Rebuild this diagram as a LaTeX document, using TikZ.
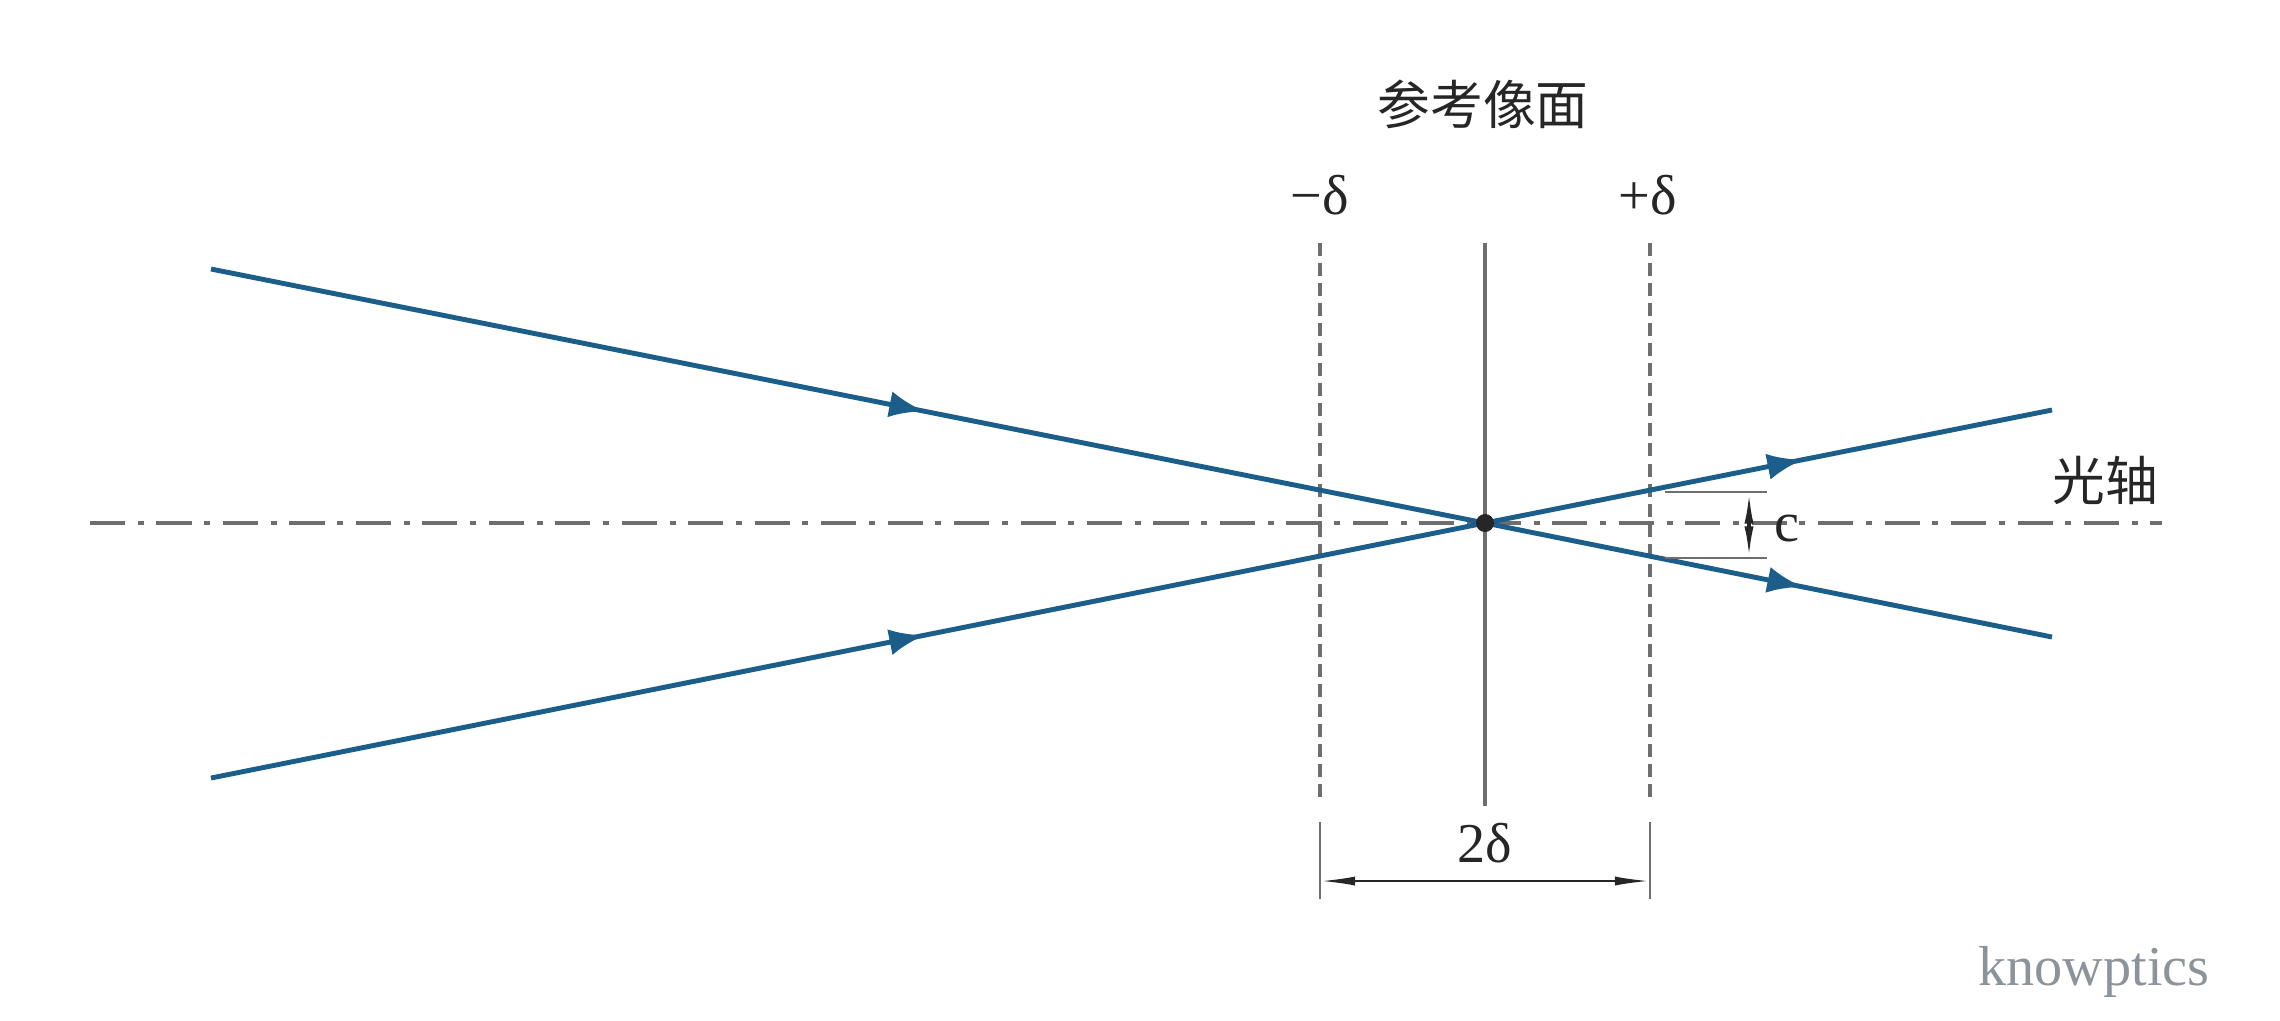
\documentclass[tikz,border=0pt]{standalone}
\usepackage{fontspec}
\setmainfont{Liberation Serif}
\newfontfamily\cjk{Noto Sans CJK SC}
\usetikzlibrary{arrows.meta,decorations.markings}
\definecolor{raycol}{HTML}{1B5E8A}
\definecolor{axcol}{HTML}{6E6E6E}
\definecolor{wmcol}{HTML}{8C949B}

\begin{document}
\begin{tikzpicture}[x=0.01cm,y=-0.01cm,
    ray/.style={raycol, line width=1.4pt, postaction={decorate},
      decoration={markings, mark=at position 0.56 with {\arrow{Latex[length=10pt,width=7.5pt]}}}},
    optaxis/.style={axcol, line width=0.9pt, dash pattern=on 10pt off 3.6pt on 1.7pt off 3.6pt},
    plane/.style={axcol, line width=0.9pt, dash pattern=on 3.7pt off 2pt},
    extline/.style={axcol, line width=0.7pt},
    dimline/.style={black!85, line width=0.7pt, {Latex[length=10pt,width=2.6pt]}-{Latex[length=10pt,width=2.6pt]}},
    lbl/.style={font=\fontsize{16}{18}\selectfont, inner sep=0pt, text=black!85}]
    \useasboundingbox (0,0) rectangle (2280,1020);
    % points
    \coordinate (F) at (1485,523);
    \coordinate (ax1) at (90,523);  \coordinate (ax2) at (2162,523);
    \coordinate (a1) at (211,269);  \coordinate (a2) at (2052,637);
    \coordinate (b1) at (211,778);  \coordinate (b2) at (2052,410);
    \coordinate (m1) at (1320,243); \coordinate (m2) at (1320,797);
    \coordinate (p1) at (1650,243); \coordinate (p2) at (1650,797);
    \coordinate (r1) at (1485,243); \coordinate (r2) at (1485,806);
    % optical axis and planes
    \draw[optaxis] (ax1) -- (ax2);
    \draw[plane] (m1) -- (m2);
    \draw[plane] (p1) -- (p2);
    \draw[axcol, line width=0.9pt] (r1) -- (r2);
    % rays
    \draw[ray] (a1) -- (F);
    \draw[ray] (F) -- (a2);
    \draw[ray] (b1) -- (F);
    \draw[ray] (F) -- (b2);
    \fill[black!85] (F) circle (9);
    % 2delta dimension
    \coordinate (d1) at (1320,881); \coordinate (d2) at (1650,881);
    \draw[extline] (1320,822) -- (1320,899);
    \draw[extline] (1650,822) -- (1650,899);
    \draw[dimline] (d1) -- (d2);
    % c dimension
    \coordinate (c1) at (1749,492); \coordinate (c2) at (1749,558);
    \draw[extline] (1665,492) -- (1767,492);
    \draw[extline] (1665,558) -- (1767,558);
    \draw[dimline, line width=0.9pt, {Latex[length=9pt,width=2.6pt]}-{Latex[length=9pt,width=2.6pt]}] (c1) -- (c2);
    % labels
    \node[lbl, font=\fontsize{15}{18}\selectfont] (title) at (1483,104) {\cjk 参考像面};
    \node[lbl] (minus) at (1320,195) {−δ};
    \node[lbl] (plus) at (1648,195) {+δ};
    \node[lbl] (twod) at (1485,843) {2δ};
    \node[lbl] (clbl) at (1787,528) {c};
    \node[lbl, font=\fontsize{15}{18}\selectfont] (axlbl) at (2105,480) {\cjk 光轴};
    \node[lbl, text=wmcol, font=\fontsize{16}{18}\selectfont] (wm) at (2094,972) {knowptics};
\end{tikzpicture}
\end{document}
